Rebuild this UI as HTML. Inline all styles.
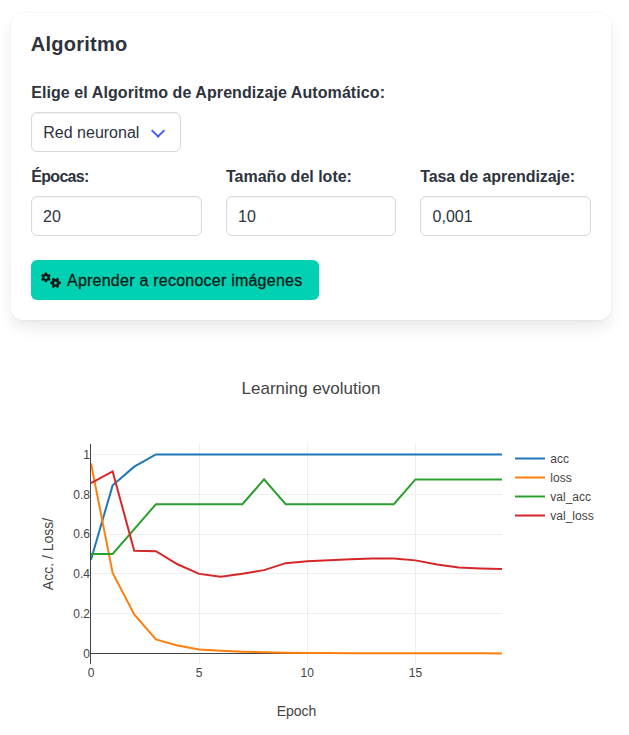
<!DOCTYPE html>
<html><head><meta charset="utf-8">
<style>
html,body{margin:0;padding:0;background:#fff;width:629px;height:735px;overflow:hidden;position:relative;font-family:"Liberation Sans",sans-serif;}
.card{position:absolute;left:11px;top:13px;width:600px;height:307px;border-radius:12px;background:#fff;
box-shadow:0 8px 16px -2px rgba(10,10,10,0.1),0 0 0 1px rgba(10,10,10,0.02);}
.t{position:absolute;line-height:1;white-space:nowrap;}
.b{font-weight:bold;color:#2e333d;font-size:16px;}
.box{position:absolute;box-sizing:border-box;border:1px solid #d5d9e0;border-radius:6px;background:#fff;box-shadow:inset 0 1px 2px rgba(9,10,12,0.05);}
.btn{position:absolute;left:31px;top:260px;width:288px;height:40px;border-radius:6px;background:#00d1b2;}
</style></head><body>
<div class="card"></div>
<div class="t" style="left:30.8px;top:33.9px;font-size:20px;font-weight:bold;color:#2e333d;letter-spacing:0.25px">Algoritmo</div>
<div class="t b" style="left:31.2px;top:85.1px;letter-spacing:0.08px">Elige el Algoritmo de Aprendizaje Automático:</div>
<div class="box" style="left:31px;top:112px;width:150px;height:40px"></div>
<div class="t" style="left:43.3px;top:125.3px;font-size:16px;color:#2e333d">Red neuronal</div>
<div style="position:absolute;left:152.9px;top:125.6px;width:7.6px;height:7.6px;border-left:2px solid #4258ff;border-bottom:2px solid #4258ff;transform:rotate(-45deg)"></div>
<div class="t b" style="left:31.2px;top:168.95px;letter-spacing:-0.67px">Épocas:</div>
<div class="t b" style="left:226px;top:168.95px">Tamaño del lote:</div>
<div class="t b" style="left:420.2px;top:168.95px;letter-spacing:-0.07px">Tasa de aprendizaje:</div>
<div class="box" style="left:31px;top:196px;width:171px;height:40px"></div>
<div class="box" style="left:226px;top:196px;width:170px;height:40px"></div>
<div class="box" style="left:420px;top:196px;width:171px;height:40px"></div>
<div class="t" style="left:43px;top:208.5px;font-size:16px;color:#2e333d">20</div>
<div class="t" style="left:238px;top:208.5px;font-size:16px;color:#2e333d">10</div>
<div class="t" style="left:432.6px;top:208.5px;font-size:16px;color:#2e333d">0,001</div>
<div class="btn"></div>
<svg width="629" height="735" style="position:absolute;left:0;top:0"><path d="M47.38,274.01 L47.20,273.62 L46.86,272.49 L44.94,272.49 L44.60,273.62 L44.42,274.01 L43.70,274.43 L43.27,274.38 L42.13,274.12 L41.17,275.78 L41.97,276.63 L42.22,276.98 L42.22,277.82 L41.97,278.17 L41.17,279.02 L42.13,280.68 L43.27,280.42 L43.70,280.37 L44.42,280.79 L44.60,281.18 L44.94,282.31 L46.86,282.31 L47.20,281.18 L47.38,280.79 L48.10,280.37 L48.53,280.42 L49.67,280.68 L50.63,279.02 L49.83,278.17 L49.58,277.82 L49.58,276.98 L49.83,276.63 L50.63,275.78 L49.67,274.12 L48.53,274.38 L48.10,274.43Z M47.40,277.40 A1.5,1.5 0 1,0 44.40,277.40 A1.5,1.5 0 1,0 47.40,277.40Z M59.17,284.50 L59.57,284.30 L60.80,283.94 L60.80,281.86 L59.57,281.50 L59.17,281.30 L58.72,280.52 L58.74,280.08 L59.05,278.83 L57.25,277.79 L56.32,278.68 L55.95,278.93 L55.05,278.93 L54.68,278.68 L53.75,277.79 L51.95,278.83 L52.26,280.08 L52.28,280.52 L51.83,281.30 L51.43,281.50 L50.20,281.86 L50.20,283.94 L51.43,284.30 L51.83,284.50 L52.28,285.28 L52.26,285.72 L51.95,286.97 L53.75,288.01 L54.68,287.12 L55.05,286.87 L55.95,286.87 L56.32,287.12 L57.25,288.01 L59.05,286.97 L58.74,285.72 L58.72,285.28Z M57.00,282.90 A1.5,1.5 0 1,0 54.00,282.90 A1.5,1.5 0 1,0 57.00,282.90Z" fill="#0a1a17" fill-rule="evenodd"/></svg>
<div class="t" style="left:67px;top:272.95px;font-size:16px;color:#0a1a17;letter-spacing:0.235px;-webkit-text-stroke:0.3px #0a1a17">Aprender a reconocer imágenes</div>
<svg width="629" height="735" style="position:absolute;left:0;top:0">
<defs><clipPath id="pc"><rect x="91" y="444" width="411" height="220"/></clipPath></defs>
<line x1="91" x2="502" y1="454.5" y2="454.5" stroke="#eee" stroke-width="1"/>
<line x1="91" x2="502" y1="494.5" y2="494.5" stroke="#eee" stroke-width="1"/>
<line x1="91" x2="502" y1="534.5" y2="534.5" stroke="#eee" stroke-width="1"/>
<line x1="91" x2="502" y1="573.5" y2="573.5" stroke="#eee" stroke-width="1"/>
<line x1="91" x2="502" y1="613.5" y2="613.5" stroke="#eee" stroke-width="1"/>
<line x1="199.5" x2="199.5" y1="444" y2="664" stroke="#eee" stroke-width="1"/>
<line x1="307.5" x2="307.5" y1="444" y2="664" stroke="#eee" stroke-width="1"/>
<line x1="415.5" x2="415.5" y1="444" y2="664" stroke="#eee" stroke-width="1"/>
<line x1="91" x2="502" y1="653.5" y2="653.5" stroke="#444" stroke-width="1"/>
<g clip-path="url(#pc)">
<path d="M91.00,559.77L112.63,485.35L134.26,466.64L155.89,454.50L177.52,454.50L199.15,454.50L220.78,454.50L242.41,454.50L264.04,454.50L285.67,454.50L307.30,454.50L328.93,454.50L350.56,454.50L372.19,454.50L393.82,454.50L415.45,454.50L437.08,454.50L458.71,454.50L480.34,454.50L501.97,454.50" fill="none" stroke="#1f77b4" stroke-width="2" stroke-linejoin="miter"/>
<path d="M91.00,463.46L112.63,572.90L134.26,614.50L155.89,639.37L177.52,645.54L199.15,649.52L220.78,650.71L242.41,651.71L264.04,652.31L285.67,652.70L307.30,652.90L328.93,653.10L350.56,653.16L372.19,653.22L393.82,653.26L415.45,653.30L437.08,653.32L458.71,653.34L480.34,653.36L501.97,653.38" fill="none" stroke="#ff7f0e" stroke-width="2" stroke-linejoin="miter"/>
<path d="M91.00,554.00L112.63,554.00L134.26,529.12L155.89,504.25L177.52,504.25L199.15,504.25L220.78,504.25L242.41,504.25L264.04,479.38L285.67,504.25L307.30,504.25L328.93,504.25L350.56,504.25L372.19,504.25L393.82,504.25L415.45,479.38L437.08,479.38L458.71,479.38L480.34,479.38L501.97,479.38" fill="none" stroke="#2ca02c" stroke-width="2" stroke-linejoin="miter"/>
<path d="M91.00,483.16L112.63,471.41L134.26,550.82L155.89,551.21L177.52,564.25L199.15,573.90L220.78,576.69L242.41,573.70L264.04,570.12L285.67,563.15L307.30,561.16L328.93,560.37L350.56,559.37L372.19,558.58L393.82,558.58L415.45,560.37L437.08,564.55L458.71,567.53L480.34,568.53L501.97,569.12" fill="none" stroke="#d62728" stroke-width="2" stroke-linejoin="miter"/>
</g>
<line x1="90.5" x2="90.5" y1="444" y2="664" stroke="#444" stroke-width="1"/>
<text x="90" y="657.70" text-anchor="end" font-family="Liberation Sans, sans-serif" font-size="12" fill="#444">0</text>
<text x="90" y="617.90" text-anchor="end" font-family="Liberation Sans, sans-serif" font-size="12" fill="#444">0.2</text>
<text x="90" y="578.10" text-anchor="end" font-family="Liberation Sans, sans-serif" font-size="12" fill="#444">0.4</text>
<text x="90" y="538.30" text-anchor="end" font-family="Liberation Sans, sans-serif" font-size="12" fill="#444">0.6</text>
<text x="90" y="498.50" text-anchor="end" font-family="Liberation Sans, sans-serif" font-size="12" fill="#444">0.8</text>
<text x="90" y="458.70" text-anchor="end" font-family="Liberation Sans, sans-serif" font-size="12" fill="#444">1</text>
<text x="91.00" y="677" text-anchor="middle" font-family="Liberation Sans, sans-serif" font-size="12" fill="#444">0</text>
<text x="199.15" y="677" text-anchor="middle" font-family="Liberation Sans, sans-serif" font-size="12" fill="#444">5</text>
<text x="307.30" y="677" text-anchor="middle" font-family="Liberation Sans, sans-serif" font-size="12" fill="#444">10</text>
<text x="415.45" y="677" text-anchor="middle" font-family="Liberation Sans, sans-serif" font-size="12" fill="#444">15</text>
<text x="311" y="394.2" text-anchor="middle" font-family="Liberation Sans, sans-serif" font-size="17" fill="#444">Learning evolution</text>
<text x="296.5" y="715.6" text-anchor="middle" font-family="Liberation Sans, sans-serif" font-size="14" fill="#444">Epoch</text>
<text transform="translate(52.7,554) rotate(-90)" x="0" y="0" text-anchor="middle" font-family="Liberation Sans, sans-serif" font-size="14" fill="#444">Acc. / Loss/</text>
<line x1="515" x2="545" y1="458.5" y2="458.5" stroke="#1f77b4" stroke-width="2"/>
<text x="550.3" y="462.7" font-family="Liberation Sans, sans-serif" font-size="12" fill="#444">acc</text>
<line x1="515" x2="545" y1="477.5" y2="477.5" stroke="#ff7f0e" stroke-width="2"/>
<text x="550.3" y="481.7" font-family="Liberation Sans, sans-serif" font-size="12" fill="#444">loss</text>
<line x1="515" x2="545" y1="496.5" y2="496.5" stroke="#2ca02c" stroke-width="2"/>
<text x="550.3" y="500.7" font-family="Liberation Sans, sans-serif" font-size="12" fill="#444">val_acc</text>
<line x1="515" x2="545" y1="515.5" y2="515.5" stroke="#d62728" stroke-width="2"/>
<text x="550.3" y="519.7" font-family="Liberation Sans, sans-serif" font-size="12" fill="#444">val_loss</text>
</svg>
</body></html>
